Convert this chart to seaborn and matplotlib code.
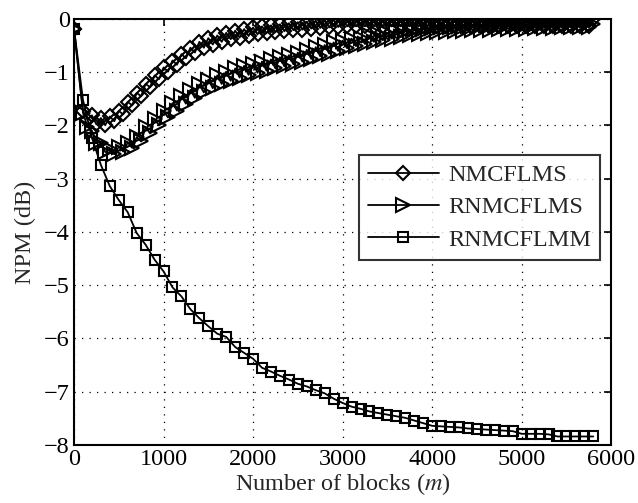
import numpy as np
import pandas as pd
import matplotlib
matplotlib.use("Agg")
import matplotlib.pyplot as plt
import seaborn as sns

# ---------------- data ----------------
# NMCFLMS (diamonds): values at x = 0,100,...,5800 and x = 150,250,...,5750
nm_even = [-0.18, -1.72, -1.81, -1.86, -1.83, -1.73, -1.56, -1.39, -1.22, -1.06,
           -0.91, -0.78, -0.66, -0.54, -0.43, -0.36, -0.31, -0.26, -0.22, -0.19,
           -0.16, -0.14, -0.12, -0.10, -0.08, -0.06, -0.05, -0.03, -0.02, -0.01,
           -0.01, -0.01, 0.00, 0.00, 0.00, 0.00, 0.00, 0.00, 0.00, 0.00,
           0.00, 0.00, 0.00, 0.00, 0.00, 0.00, 0.00, 0.00, 0.00, 0.00,
           0.00, 0.00, 0.00, 0.00, 0.00, 0.00, 0.00, 0.00, 0.00]
nm_odd = [-1.89, -1.98, -1.99, -1.92, -1.79, -1.62, -1.45, -1.28, -1.13,
          -0.99, -0.86, -0.74, -0.63, -0.54, -0.48, -0.43, -0.38, -0.35, -0.32,
          -0.29, -0.27, -0.25, -0.23, -0.21, -0.20, -0.18, -0.17, -0.16, -0.15,
          -0.14, -0.14, -0.14, -0.14, -0.14, -0.14, -0.14, -0.14, -0.14, -0.14,
          -0.14, -0.14, -0.14, -0.14, -0.14, -0.14, -0.14, -0.14, -0.14, -0.14,
          -0.14, -0.14, -0.14, -0.14, -0.14, -0.14, -0.14, -0.14]

# RNMCFLMS (triangles): x = 0,100,...,5800 and x = 150,250,...,5750
rn_even = [-0.18, -1.76, -2.10, -2.33, -2.45, -2.40, -2.32, -2.22, -2.03, -1.88,
           -1.73, -1.58, -1.45, -1.33, -1.23, -1.14, -1.06, -0.99, -0.93, -0.88,
           -0.84, -0.80, -0.76, -0.72, -0.68, -0.63, -0.58, -0.53, -0.49, -0.44,
           -0.41, -0.37, -0.35, -0.31, -0.29, -0.26, -0.23, -0.22, -0.20, -0.18,
           -0.17, -0.16, -0.15, -0.14, -0.13, -0.13, -0.12, -0.12, -0.11, -0.11,
           -0.10, -0.10, -0.10, -0.10, -0.10, -0.09, -0.09, -0.09, -0.09]
rn_odd = [-2.02, -2.32, -2.50, -2.54, -2.49, -2.42, -2.30, -2.15, -2.00,
          -1.85, -1.72, -1.59, -1.48, -1.38, -1.30, -1.22, -1.16, -1.10, -1.05,
          -1.01, -0.97, -0.93, -0.89, -0.85, -0.80, -0.75, -0.70, -0.65, -0.60,
          -0.55, -0.51, -0.47, -0.43, -0.40, -0.37, -0.34, -0.31, -0.29, -0.27,
          -0.25, -0.24, -0.23, -0.22, -0.21, -0.20, -0.20, -0.19, -0.19, -0.18,
          -0.18, -0.17, -0.17, -0.17, -0.16, -0.16, -0.16, -0.16]

# RNMCFLMM (squares) at x = 0,100,...,5800
rm_vals = [-0.18, -1.52, -2.23, -2.74, -3.14, -3.40, -3.63, -4.02, -4.24, -4.52,
           -4.74, -5.04, -5.21, -5.45, -5.62, -5.77, -5.91, -5.97, -6.16, -6.27,
           -6.38, -6.55, -6.62, -6.70, -6.77, -6.85, -6.90, -6.97, -7.03, -7.13,
           -7.21, -7.28, -7.32, -7.37, -7.40, -7.43, -7.46, -7.49, -7.54, -7.59,
           -7.64, -7.65, -7.66, -7.67, -7.69, -7.70, -7.71, -7.72, -7.73, -7.74,
           -7.79, -7.79, -7.79, -7.80, -7.84, -7.84, -7.84, -7.84, -7.84]

labels = ["NMCFLMS", "RNMCFLMS", "RNMCFLMM"]
x_ticks = [0, 1000, 2000, 3000, 4000, 5000, 6000]
y_ticks = [-8, -7, -6, -5, -4, -3, -2, -1, 0]

x_coarse = [100 * i for i in range(len(rm_vals))]


def interleave(even, odd):
    # even at 0,100,200,...; odd at 150,250,... (first odd follows x=100)
    xs, ys = [0, 100], [even[0], even[1]]
    for i in range(2, len(even)):
        xs.append(100 * i - 50)
        ys.append(odd[i - 2])
        xs.append(100 * i)
        ys.append(even[i])
    return xs, ys


nm_x, nm_vals = interleave(nm_even, nm_odd)
rn_x, rn_vals = interleave(rn_even, rn_odd)

# ---------------- style ----------------
sns.set_style("white")
plt.rcParams["font.family"] = ["Liberation Serif", "DejaVu Serif"]
plt.rcParams["mathtext.fontset"] = "stix"
plt.rcParams["axes.unicode_minus"] = True

fig = plt.figure(figsize=(6.38, 5.03), dpi=100)
ax = fig.add_axes([0.116, 0.1153, 0.842, 0.847])

common = dict(color="black", linewidth=1.3, markerfacecolor="none",
              markeredgecolor="black", markeredgewidth=1.5, ax=ax,
              estimator=None, sort=False)

sns.lineplot(x=nm_x, y=nm_vals, marker="D", markersize=7.5,
             label=labels[0], **common)
sns.lineplot(x=rn_x, y=rn_vals, marker=">", markersize=10,
             label=labels[1], **common)
sns.lineplot(x=x_coarse, y=rm_vals, marker="s", markersize=7.5,
             label=labels[2], **common)

ax.set_xlim(0, 6000)
ax.set_ylim(-8, 0)
ax.set_xticks(x_ticks)
ax.set_yticks(y_ticks)
ax.tick_params(direction="in", length=5, width=1.2, top=True, right=True,
               labelsize=17.5, colors="black", pad=3)
for sp in ax.spines.values():
    sp.set_visible(True)
    sp.set_linewidth(1.5)
    sp.set_color("black")
ax.grid(True, color="black", linestyle=(0, (1, 5)), linewidth=0.9)

ax.set_xlabel("Number of blocks ($m$)", fontsize=17.5, labelpad=1)
ax.set_ylabel("NPM (dB)", fontsize=17.5, labelpad=6)

leg = ax.legend(loc="upper right", bbox_to_anchor=(0.98, 0.681), fontsize=17.5,
                frameon=True, fancybox=False, edgecolor="black",
                handlelength=2.9, numpoints=1, borderpad=0.38,
                labelspacing=0.42, handletextpad=0.4, borderaxespad=0)
leg.get_frame().set_linewidth(1.5)
leg.get_frame().set_facecolor("white")

fig.savefig("out.png", dpi=100)
